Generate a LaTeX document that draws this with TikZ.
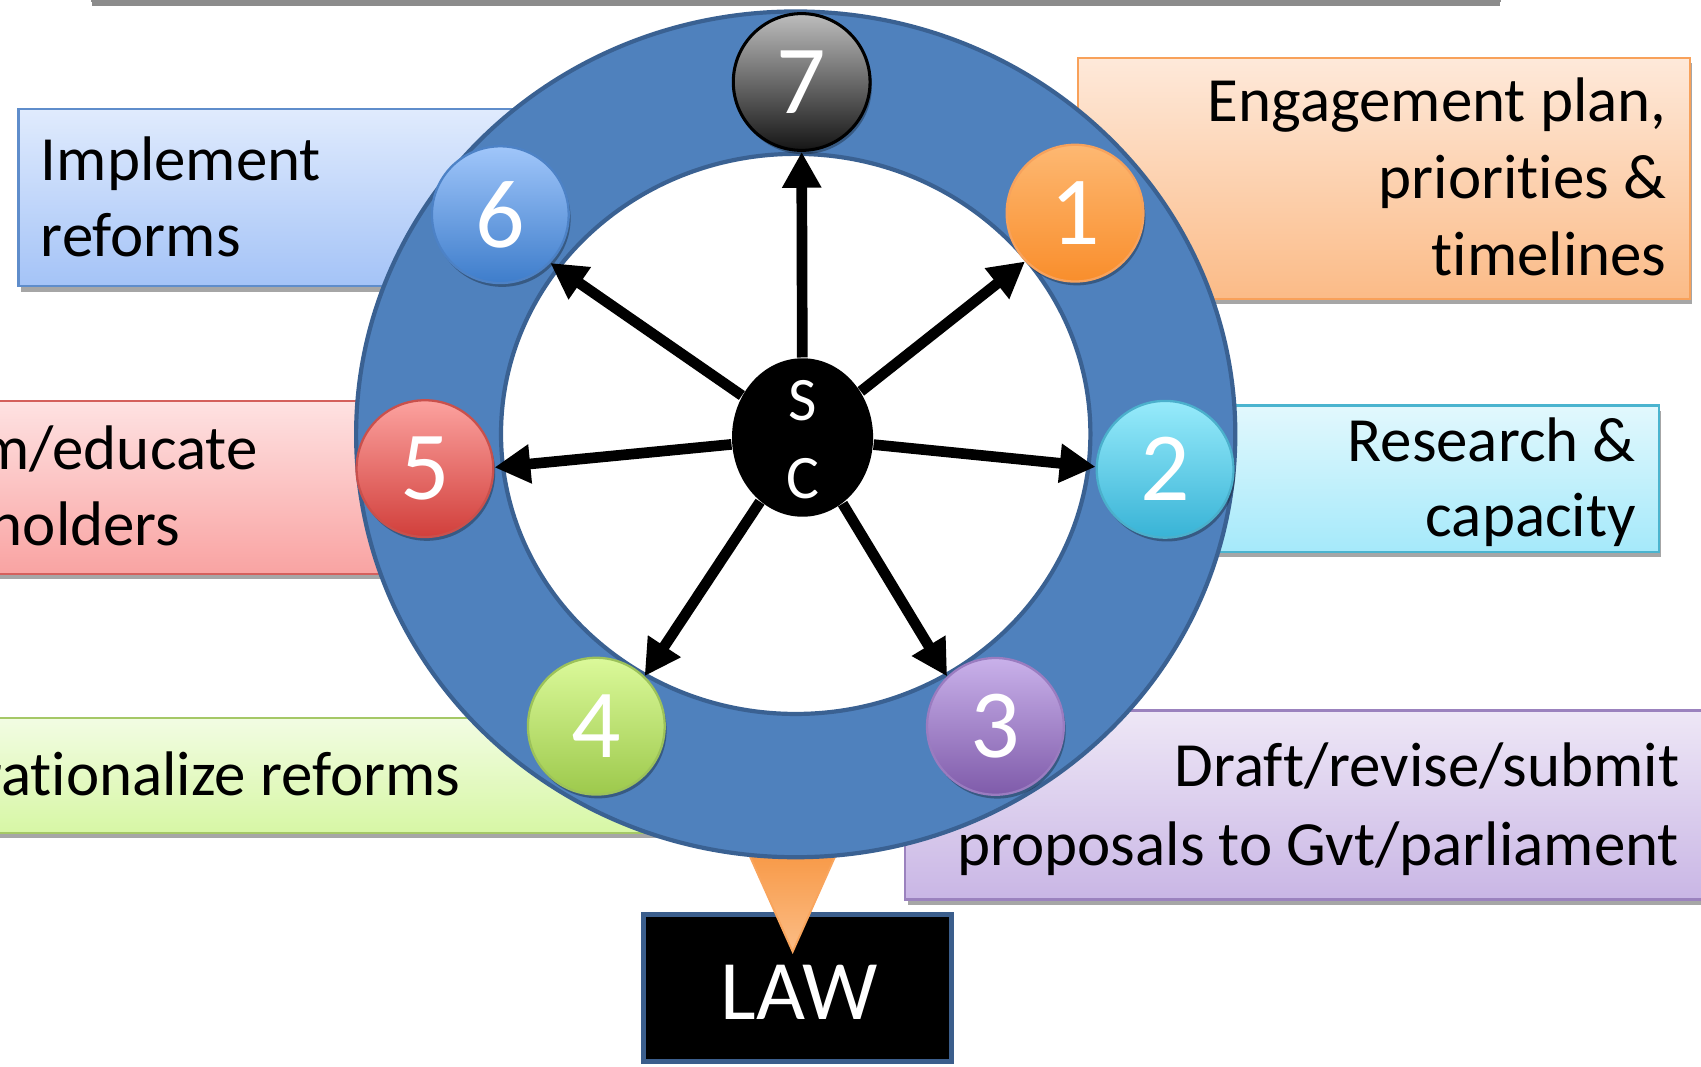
\documentclass[tikz,border=0pt]{standalone}
\usepackage{fontspec}
\setmainfont{Carlito}[Ligatures=NoCommon]
\usetikzlibrary{shapes.geometric,arrows.meta,shadows}
\definecolor{ringfill}{HTML}{4F81BD}
\definecolor{ringline}{HTML}{3A6192}
\definecolor{lawline}{HTML}{3B5E8C}
% boxes
\definecolor{orT}{HTML}{FEE9DA}\definecolor{orB}{HTML}{FBBB87}\definecolor{orL}{HTML}{F8A15A}
\definecolor{cyT}{HTML}{E2F8FD}\definecolor{cyB}{HTML}{A5E9FA}\definecolor{cyL}{HTML}{4BB4CF}
\definecolor{puT}{HTML}{EEE7F6}\definecolor{puB}{HTML}{C9B6E5}\definecolor{puL}{HTML}{9B82BE}
\definecolor{grT}{HTML}{F2FCE3}\definecolor{grB}{HTML}{D7F7A5}\definecolor{grL}{HTML}{A5C866}
\definecolor{reT}{HTML}{FEE2E2}\definecolor{reB}{HTML}{F9A3A2}\definecolor{reL}{HTML}{D4605C}
\definecolor{blT}{HTML}{E0EBFD}\definecolor{blB}{HTML}{A4C3F7}\definecolor{blL}{HTML}{5F8DCB}
% balls
\definecolor{b7T}{HTML}{BDBDBD}\definecolor{b7B}{HTML}{151515}
\definecolor{b1T}{HTML}{FDB872}\definecolor{b1B}{HTML}{F98E2C}\definecolor{b1L}{HTML}{F7A25C}
\definecolor{b2T}{HTML}{97EBFB}\definecolor{b2B}{HTML}{38B3D6}\definecolor{b2L}{HTML}{4BB0CC}
\definecolor{b3T}{HTML}{C9B1EA}\definecolor{b3B}{HTML}{7F5BAA}\definecolor{b3L}{HTML}{9A7CC0}
\definecolor{b4T}{HTML}{DBF99A}\definecolor{b4B}{HTML}{9DC94C}\definecolor{b4L}{HTML}{9CC25A}
\definecolor{b5T}{HTML}{FCA29F}\definecolor{b5B}{HTML}{D13F3B}\definecolor{b5L}{HTML}{C9504C}
\definecolor{b6T}{HTML}{A0C6FA}\definecolor{b6B}{HTML}{3E7DCB}\definecolor{b6L}{HTML}{4D82C6}
\definecolor{trT}{HTML}{F78F35}\definecolor{trB}{HTML}{FBBD86}
\tikzset{
  infobox/.style={rectangle, inner sep=0pt, line width=0.6pt, anchor=north west,
    drop shadow={shadow xshift=0.6pt, shadow yshift=-1.4pt, opacity=0.35, fill=black}},
  boxtext/.style={inner sep=0pt, font=\fontsize{16.5pt}{20pt}\selectfont, text=black},
  numball/.style={circle, minimum size=1.26cm, inner sep=0pt, line width=0.6pt, text=white,
    font=\fontsize{25.6pt}{30pt}\selectfont,
    drop shadow={shadow xshift=0.5pt, shadow yshift=-1pt, opacity=0.3, fill=black}},
  spoke/.style={line width=2.8pt, -{Triangle[length=9.4pt,width=9.7pt]}},
  sclabel/.style={inner sep=0pt, anchor=base, text=white, font=\fontsize{16.2pt}{19pt}\selectfont},
}
\begin{document}
\begin{tikzpicture}[x=0.01cm,y=-0.01cm]
\useasboundingbox (0,0) rectangle (1568,983);
\clip (0,0) rectangle (1568,983);
% top bar (cut off)
\path[draw=black!45, fill=white, line width=0.6pt,
  drop shadow={shadow xshift=0pt, shadow yshift=-1.3pt, opacity=0.45, fill=black}]
  (85,-60) rectangle (1383,1);
% info boxes
\node[infobox, top color=orT, bottom color=orB, draw=orL, minimum width=5.636cm, minimum height=2.222cm] (b1) at (992.8,52.2) {};
\node[infobox, top color=cyT, bottom color=cyB, draw=cyL, minimum width=4.78cm, minimum height=1.349cm] (b2) at (1050,372.7) {};
\node[infobox, top color=puT, bottom color=puB, draw=puL, minimum width=7.9cm, minimum height=1.74cm] (b3) at (833.5,654) {};
\node[infobox, top color=grT, bottom color=grB, draw=grL, minimum width=8.0cm, minimum height=1.061cm] (b4) at (-150,660.6) {};
\node[infobox, top color=reT, bottom color=reB, draw=reL, minimum width=5.6cm, minimum height=1.593cm] (b5) at (-160,368.7) {};
\node[infobox, top color=blT, bottom color=blB, draw=blL, minimum width=4.586cm, minimum height=1.634cm] (b6) at (15.9,99.3) {};
% LAW box
\node[rectangle, fill=black, draw=lawline, line width=1.3pt, minimum width=2.83cm, minimum height=1.354cm, inner sep=0pt] (law) at (735.2,911) {};
% pointer triangle
\path[draw=trT!80!white, line width=0.5pt, top color=trT, bottom color=trB]
  (678.1,760) -- (783,760) -- (730.7,877.3) -- cycle;
% ring
\path[fill=ringfill, even odd rule]
  (733.5,400.4) ellipse [x radius=4.05cm, y radius=3.896cm]
  (733.5,400) ellipse [x radius=2.715cm, y radius=2.58cm];
\draw[ringline, line width=1.1pt] (733.5,400.4) ellipse [x radius=4.05cm, y radius=3.896cm];
\draw[ringline, line width=1.1pt] (733.5,400) ellipse [x radius=2.715cm, y radius=2.58cm];
% number balls
\node[numball, top color=b7T, bottom color=b7B, draw=black, line width=0.8pt] (c7) at (739,75.6) {7};
\node[numball, top color=b1T, bottom color=b1B, draw=b1L] (c1) at (991,196.5) {1};
\node[numball, top color=b2T, bottom color=b2B, draw=b2L] (c2) at (1074,432.6) {2};
\node[numball, top color=b3T, bottom color=b3B, draw=b3L] (c3) at (917.6,669.6) {3};
\node[numball, top color=b4T, bottom color=b4B, draw=b4L] (c4) at (549.7,669.4) {4};
\node[numball, top color=b5T, bottom color=b5B, draw=b5L] (c5) at (391.7,432) {5};
\node[numball, top color=b6T, bottom color=b6B, draw=b6L] (c6) at (461.2,197.9) {6};
% centre
\node[ellipse, fill=black, minimum width=1.30cm, minimum height=1.46cm, inner sep=0pt] (sc) at (739.8,403.3) {};
\node[sclabel] (sS) at (740,387.8) {S};
\node[sclabel] (sC) at (740,459.4) {C};
% spokes
\draw[spoke] (sc) -- (c7.south);
\draw[spoke] (sc) -- (c1.224);
\draw[spoke] (sc) -- (c2.178);
\draw[spoke] (sc) -- (c3.134);
\draw[spoke] (sc) -- (c4.46);
\draw[spoke] (sc) -- (c5.1);
\draw[spoke] (sc) -- (c6.316);
% box texts
\node[boxtext, anchor=base east] (t1a) at (1537,112.2) {Engagement plan,};
\node[boxtext, anchor=base east] (t1b) at (1537,182.8) {priorities \&};
\node[boxtext, anchor=base east] (t1c) at (1537,253.6) {timelines};
\node[boxtext, anchor=base east] (t2a) at (1508.7,425) {Research \&};
\node[boxtext, anchor=base east] (t2b) at (1508.7,494.7) {capacity};
\node[boxtext, anchor=base east] (t3a) at (1548.6,724.6) {Draft/revise/submit};
\node[boxtext, anchor=base east] (t3b) at (1548.6,797.4) {proposals to Gvt/parliament};
\node[boxtext, anchor=base east] (t4a) at (425,733) {Operationalize reforms};
\node[boxtext, anchor=base east] (t5a) at (238,432.4) {Inform/educate};
\coordinate (r5) at (0,502.4);
\node[boxtext, anchor=base west] (t5b) at (t5a.base west |- r5) {stakeholders};
\node[boxtext, anchor=base west] (t6a) at (37,166) {Implement};
\node[boxtext, anchor=base west] (t6b) at (37,236) {reforms};
% LAW text
\node[inner sep=0pt, anchor=base, text=white, font=\fontsize{22.2pt}{26pt}\selectfont] (lawt) at (736.6,939.4) {LAW};
\end{tikzpicture}
\end{document}
